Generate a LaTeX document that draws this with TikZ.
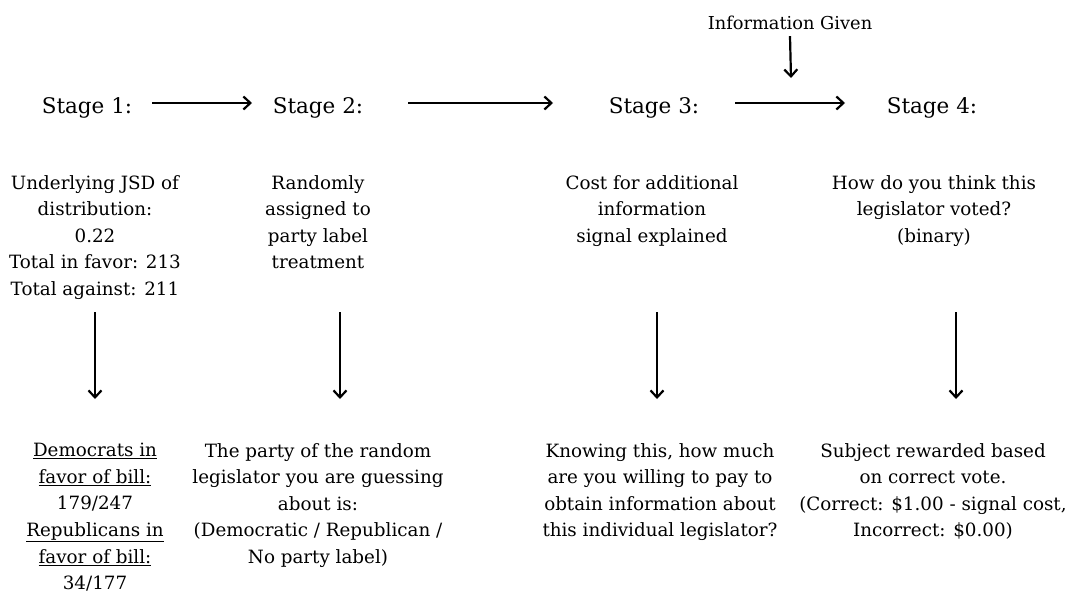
\documentclass[tikz,border=0pt]{standalone}
\usepackage{fontspec}
\setmainfont{DejaVu Serif}
\usetikzlibrary{arrows.meta}
\begin{document}
\begin{tikzpicture}[x=1pt,y=-1pt,
  stagetxt/.style={font=\fontsize{21.5}{26}\selectfont, inner sep=0pt},
  bodytxt/.style={font=\fontsize{18.3}{26.6}\selectfont, align=center, inner sep=0pt, anchor=north},
  infotxt/.style={font=\fontsize{17.8}{20}\selectfont, inner sep=0pt},
  flow/.style={line width=2.2pt, -{Straight Barb[length=7pt,width=13pt,line width=2.2pt]}}]
\useasboundingbox (0,0) rectangle (1086,595);
% stage row
\node[stagetxt] (s1) at (87,108) {Stage 1:};
\node[stagetxt] (s2) at (318,108) {Stage 2:};
\node[stagetxt] (s3) at (654,108) {Stage 3:};
\node[stagetxt] (s4) at (932,108) {Stage 4:};
\node[infotxt] (info) at (790,23) {Information Given};
\coordinate (infoend) at (791,78);
\draw[flow] (152,103) coordinate (h1s) -- (252,103) coordinate (h1e);
\draw[flow] (408,103) coordinate (h2s) -- (553,103) coordinate (h2e);
\draw[flow] (735,103) coordinate (h3s) -- (845,103) coordinate (h3e);
\draw[flow] (info.south) ++(0,6) -- (infoend);
% upper texts
\node[bodytxt] (t1) at (95,175) {Underlying JSD of\\distribution:\\0.22\\Total in favor: 213\\Total against: 211};
\node[bodytxt] (t2) at (318,175) {Randomly\\assigned to\\party label\\treatment};
\node[bodytxt] (t3) at (652,175) {Cost for additional\\information\\signal explained};
\node[bodytxt] (t4) at (934,175) {How do you think this\\legislator voted?\\(binary)};
% lower texts
\node[bodytxt] (b1) at (95,443) {\underline{Democrats in}\\\underline{favor of bill:}\\179/247\\\underline{Republicans in}\\\underline{favor of bill:}\\34/177};
\node[bodytxt] (b2) at (318,443) {The party of the random\\legislator you are guessing\\about is:\\(Democratic / Republican /\\No party label)};
\node[bodytxt] (b3) at (660,443) {Knowing this, how much\\are you willing to pay to\\obtain information about\\this individual legislator?};
\node[bodytxt] (b4) at (933,443) {Subject rewarded based\\on correct vote.\\(Correct: \$1.00 - signal cost,\\Incorrect: \$0.00)};
% vertical arrows
\coordinate (v1s) at (95,312);  \coordinate (v1e) at (95,399);
\coordinate (v2s) at (340,312); \coordinate (v2e) at (340,399);
\coordinate (v3s) at (657,312); \coordinate (v3e) at (657,399);
\coordinate (v4s) at (956,312); \coordinate (v4e) at (956,399);
\draw[flow] (v1s) -- (v1e);
\draw[flow] (v2s) -- (v2e);
\draw[flow] (v3s) -- (v3e);
\draw[flow] (v4s) -- (v4e);
\end{tikzpicture}
\end{document}
